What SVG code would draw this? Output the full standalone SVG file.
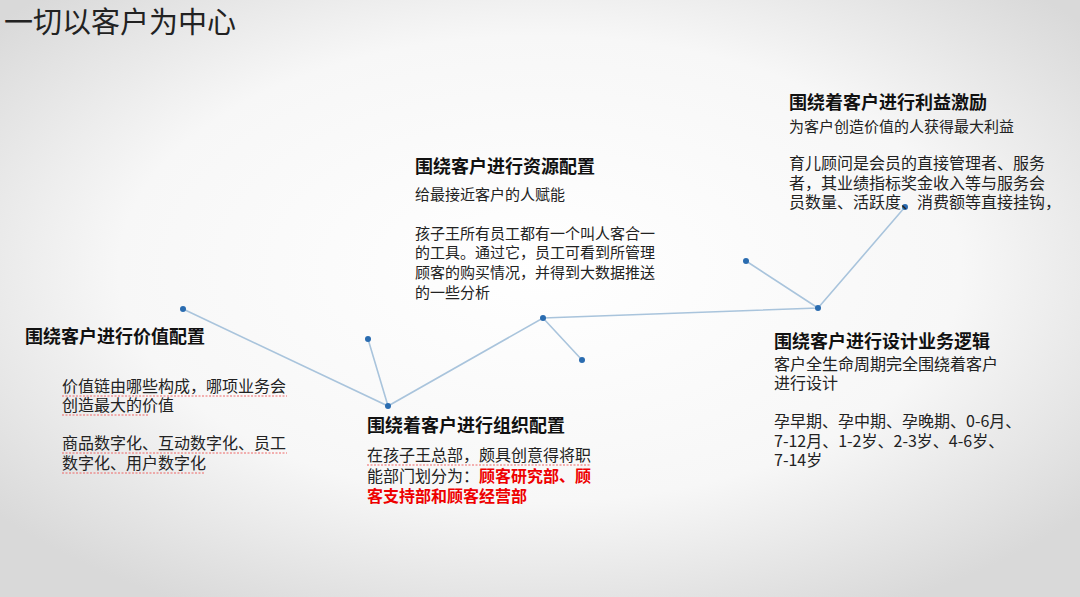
<svg xmlns="http://www.w3.org/2000/svg" width="1080" height="597" viewBox="0 0 1080 597">
<defs>
<radialGradient id="bg" cx="50%" cy="45%" r="65%">
<stop offset="0" stop-color="#ffffff"/><stop offset="0.6" stop-color="#f7f7f7"/><stop offset="1" stop-color="#d9d9d9"/>
</radialGradient>
</defs>
<style>
text{font-family:"Noto Sans CJK SC","Liberation Sans",sans-serif;fill:#222;font-size:16px}
.t{font-weight:bold;font-size:18px;fill:#111}
.s{font-size:15px}
.r{fill:#e00;font-weight:bold}
.ln{stroke:#a9c4dc;stroke-width:1.6;fill:none}
.d{fill:#2a6cb0}
.u{stroke:#e66;stroke-width:1;stroke-dasharray:2 1.5}
</style>
<rect width="1080" height="597" fill="url(#bg)"/>
<text x="4" y="33" style="font-size:29px;fill:#222">一切以客户为中心</text>
<g id="connectors">
<path class="ln" d="M183 309L388 406L543 318L818 308L905 207M368 339L388 406M543 318L582 360M746 261L818 308"/>
</g>
<g id="dots">
<circle class="d" cx="183" cy="309" r="3"/><circle class="d" cx="368" cy="339" r="3"/><circle class="d" cx="388" cy="406" r="3"/><circle class="d" cx="543" cy="318" r="3"/><circle class="d" cx="582" cy="360" r="3"/><circle class="d" cx="746" cy="261" r="3"/><circle class="d" cx="818" cy="308" r="3"/><circle class="d" cx="905" cy="207" r="3"/>
</g>
<g id="n1">
<text class="t" x="25" y="343">围绕客户进行价值配置</text>
<text x="62" y="392">价值链由哪些构成，哪项业务会</text>
<text x="62" y="411">创造最大的价值</text>
<text x="62" y="449">商品数字化、互动数字化、员工</text>
<text x="62" y="469">数字化、用户数字化</text>
<path class="u" d="M62 396H287M62 415H148M62 453H287M62 473H205"/>
</g>
<g id="n2">
<text class="t" x="367" y="432">围绕着客户进行组织配置</text>
<text x="367" y="461">在孩子王总部，颇具创意得将职</text>
<text x="367" y="482">能部门划分为：<tspan class="r">顾客研究部、顾</tspan></text>
<text class="r" x="367" y="502">客支持部和顾客经营部</text>
<path class="u" d="M367 465H590"/>
</g>
<g id="n3">
<text class="t" x="415" y="173">围绕客户进行资源配置</text>
<text class="s" x="415" y="200">给最接近客户的人赋能</text>
<text class="s" x="415" y="239">孩子王所有员工都有一个叫人客合一</text>
<text class="s" x="415" y="258">的工具。通过它，员工可看到所管理</text>
<text class="s" x="415" y="278">顾客的购买情况，并得到大数据推送</text>
<text class="s" x="415" y="298">的一些分析</text>
</g>
<g id="n4">
<text class="t" x="789" y="109">围绕着客户进行利益激励</text>
<text class="s" x="789" y="132">为客户创造价值的人获得最大利益</text>
<text x="789" y="169">育儿顾问是会员的直接管理者、服务</text>
<text x="789" y="189">者，其业绩指标奖金收入等与服务会</text>
<text x="789" y="208">员数量、活跃度、消费额等直接挂钩，</text>
</g>
<g id="n5">
<text class="t" x="774" y="348">围绕客户进行设计业务逻辑</text>
<text x="774" y="370">客户全生命周期完全围绕着客户</text>
<text x="774" y="389">进行设计</text>
<text x="774" y="427">孕早期、孕中期、孕晚期、0-6月、</text>
<text x="774" y="447">7-12月、1-2岁、2-3岁、4-6岁、</text>
<text x="774" y="466">7-14岁</text>
</g>
</svg>
